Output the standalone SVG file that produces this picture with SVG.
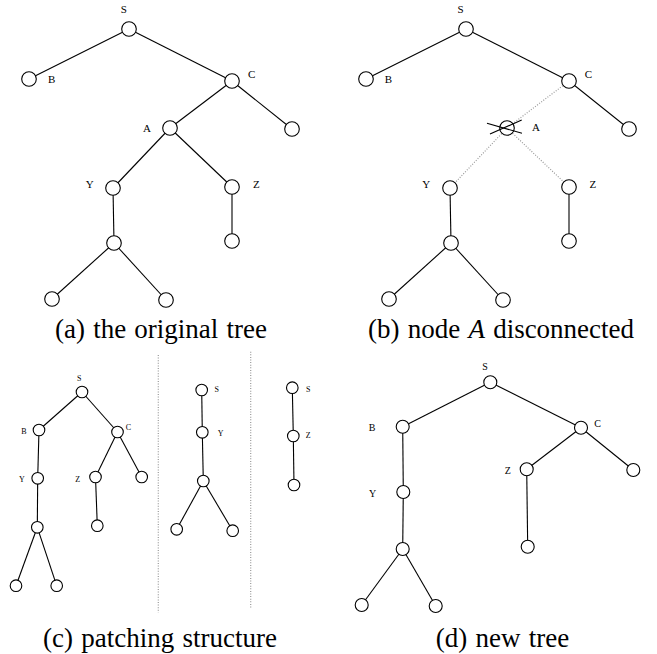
<svg xmlns="http://www.w3.org/2000/svg" width="657" height="654" viewBox="0 0 657 654">
<style>
.e{stroke:#000;stroke-width:1.1;fill:none}
.d{stroke:#999;stroke-width:1.2;stroke-dasharray:1 1.6;fill:none}
.n{fill:#fff;stroke:#000;stroke-width:1.1}
.l{font-size:11px;text-anchor:middle;fill:#000}
.ls{font-size:8px;text-anchor:middle;fill:#000}
.lm{font-size:10px;text-anchor:middle;fill:#000}
.cap{font-size:27px;text-anchor:middle;fill:#000;word-spacing:1.5px}
</style>
<rect width="657" height="654" fill="#fff"/>

<g id="connectors">
  <line class="e" x1="129" y1="29" x2="29" y2="79"/>
  <line class="e" x1="129" y1="29" x2="232" y2="81"/>
  <line class="e" x1="232" y1="81" x2="170" y2="128"/>
  <line class="e" x1="232" y1="81" x2="292" y2="129"/>
  <line class="e" x1="170" y1="128" x2="113" y2="188"/>
  <line class="e" x1="170" y1="128" x2="232" y2="187"/>
  <line class="e" x1="113" y1="188" x2="114" y2="243"/>
  <line class="e" x1="232" y1="187" x2="232" y2="241"/>
  <line class="e" x1="114" y1="243" x2="52" y2="299"/>
  <line class="e" x1="114" y1="243" x2="166" y2="300"/>
  <line class="e" x1="466" y1="29" x2="366" y2="79"/>
  <line class="e" x1="466" y1="29" x2="569" y2="81"/>
  <line class="d" x1="569" y1="81" x2="507" y2="128"/>
  <line class="e" x1="569" y1="81" x2="629" y2="129"/>
  <line class="d" x1="507" y1="128" x2="450" y2="188"/>
  <line class="d" x1="507" y1="128" x2="569" y2="187"/>
  <line class="e" x1="450" y1="188" x2="451" y2="243"/>
  <line class="e" x1="569" y1="187" x2="569" y2="241"/>
  <line class="e" x1="451" y1="243" x2="389" y2="299"/>
  <line class="e" x1="451" y1="243" x2="503" y2="300"/>
  <line class="e" x1="82" y1="392" x2="39" y2="430"/>
  <line class="e" x1="82" y1="392" x2="117.5" y2="432"/>
  <line class="e" x1="39" y1="430" x2="37.7" y2="478.3"/>
  <line class="e" x1="37.7" y1="478.3" x2="37.3" y2="527.3"/>
  <line class="e" x1="37.3" y1="527.3" x2="16" y2="585.7"/>
  <line class="e" x1="37.3" y1="527.3" x2="56.7" y2="585.7"/>
  <line class="e" x1="117.5" y1="432" x2="95.5" y2="477"/>
  <line class="e" x1="117.5" y1="432" x2="141.7" y2="477"/>
  <line class="e" x1="95.5" y1="477" x2="97.3" y2="525.7"/>
  <line class="e" x1="201.7" y1="390" x2="202.3" y2="432.3"/>
  <line class="e" x1="202.3" y1="432.3" x2="203.3" y2="481"/>
  <line class="e" x1="203.3" y1="481" x2="176.7" y2="529.3"/>
  <line class="e" x1="203.3" y1="481" x2="232.7" y2="530.7"/>
  <line class="e" x1="292.3" y1="387.7" x2="293.3" y2="436"/>
  <line class="e" x1="293.3" y1="436" x2="294" y2="485"/>
  <line class="e" x1="490.3" y1="382.3" x2="402.7" y2="426.7"/>
  <line class="e" x1="490.3" y1="382.3" x2="581" y2="427.7"/>
  <line class="e" x1="402.7" y1="426.7" x2="403.3" y2="492"/>
  <line class="e" x1="403.3" y1="492" x2="402.7" y2="549"/>
  <line class="e" x1="402.7" y1="549" x2="361.7" y2="605"/>
  <line class="e" x1="402.7" y1="549" x2="435.7" y2="606"/>
  <line class="e" x1="581" y1="427.7" x2="526.7" y2="469.3"/>
  <line class="e" x1="581" y1="427.7" x2="633.3" y2="470"/>
  <line class="e" x1="526.7" y1="469.3" x2="527.7" y2="546.7"/>
</g>

<g id="separators">
  <line class="d" x1="158.3" y1="355" x2="158.3" y2="612.7"/>
  <line class="d" x1="250.7" y1="351.7" x2="250.7" y2="608.3"/>
</g>

<g font-family="'Liberation Serif', 'Times New Roman', serif">
<g id="a-S"><circle class="n" cx="129" cy="29" r="7.3"/><text class="l" x="123.7" y="13.3">S</text></g>
<g id="a-B"><circle class="n" cx="29" cy="79" r="7.3"/><text class="l" x="51.7" y="83.4">B</text></g>
<g id="a-C"><circle class="n" cx="232" cy="81" r="7.3"/><text class="l" x="251.7" y="78.3">C</text></g>
<g id="a-CR"><circle class="n" cx="292" cy="129" r="7.3"/></g>
<g id="a-A"><circle class="n" cx="170" cy="128" r="7.3"/><text class="l" x="147" y="131.7">A</text></g>
<g id="a-Y"><circle class="n" cx="113" cy="188" r="7.3"/><text class="l" x="89.7" y="188.3">Y</text></g>
<g id="a-Z"><circle class="n" cx="232" cy="187" r="7.3"/><text class="l" x="256.3" y="188.3">Z</text></g>
<g id="a-ZC"><circle class="n" cx="232" cy="241" r="7.3"/></g>
<g id="a-YC"><circle class="n" cx="114" cy="243" r="7.3"/></g>
<g id="a-L1"><circle class="n" cx="52" cy="299" r="7.3"/></g>
<g id="a-L2"><circle class="n" cx="166" cy="300" r="7.3"/></g>

<g id="b-S"><circle class="n" cx="466" cy="29" r="7.3"/><text class="l" x="460.5" y="13.3">S</text></g>
<g id="b-B"><circle class="n" cx="366" cy="79" r="7.3"/><text class="l" x="388.5" y="83.4">B</text></g>
<g id="b-C"><circle class="n" cx="569" cy="81" r="7.3"/><text class="l" x="588.5" y="78.3">C</text></g>
<g id="b-CR"><circle class="n" cx="629" cy="129" r="7.3"/></g>
<g id="b-A"><circle class="n" cx="507" cy="128" r="7.3"/>
  <line class="e" x1="487" y1="123.3" x2="522" y2="133.3"/>
  <line class="e" x1="490" y1="134" x2="521.7" y2="120"/>
  <text class="l" x="536" y="130.6">A</text></g>
<g id="b-Y"><circle class="n" cx="450" cy="188" r="7.3"/><text class="l" x="426.3" y="188.3">Y</text></g>
<g id="b-Z"><circle class="n" cx="569" cy="187" r="7.3"/><text class="l" x="592.8" y="188.3">Z</text></g>
<g id="b-ZC"><circle class="n" cx="569" cy="241" r="7.3"/></g>
<g id="b-YC"><circle class="n" cx="451" cy="243" r="7.3"/></g>
<g id="b-L1"><circle class="n" cx="389" cy="299" r="7.3"/></g>
<g id="b-L2"><circle class="n" cx="503" cy="300" r="7.3"/></g>

<g id="c-S"><circle class="n" cx="82" cy="392" r="5.8"/><text class="ls" x="79.3" y="380.5">S</text></g>
<g id="c-B"><circle class="n" cx="39" cy="430" r="5.8"/><text class="ls" x="24" y="433.5">B</text></g>
<g id="c-C"><circle class="n" cx="117.5" cy="432" r="5.8"/><text class="ls" x="128.3" y="429.8">C</text></g>
<g id="c-Y"><circle class="n" cx="37.7" cy="478.3" r="5.8"/><text class="ls" x="21.8" y="481.5">Y</text></g>
<g id="c-Z"><circle class="n" cx="95.5" cy="477" r="5.8"/><text class="ls" x="77.6" y="481.5">Z</text></g>
<g id="c-CR"><circle class="n" cx="141.7" cy="477" r="5.8"/></g>
<g id="c-ZC"><circle class="n" cx="97.3" cy="525.7" r="5.8"/></g>
<g id="c-YC"><circle class="n" cx="37.3" cy="527.3" r="5.8"/></g>
<g id="c-L1"><circle class="n" cx="16" cy="585.7" r="5.8"/></g>
<g id="c-L2"><circle class="n" cx="56.7" cy="585.7" r="5.8"/></g>
<g id="c2-S"><circle class="n" cx="201.7" cy="390" r="5.8"/><text class="ls" x="216.7" y="392.3">S</text></g>
<g id="c2-Y"><circle class="n" cx="202.3" cy="432.3" r="5.8"/><text class="ls" x="220.7" y="436.3">Y</text></g>
<g id="c2-YC"><circle class="n" cx="203.3" cy="481" r="5.8"/></g>
<g id="c2-L1"><circle class="n" cx="176.7" cy="529.3" r="5.8"/></g>
<g id="c2-L2"><circle class="n" cx="232.7" cy="530.7" r="5.8"/></g>
<g id="c3-S"><circle class="n" cx="292.3" cy="387.7" r="5.8"/><text class="ls" x="308.3" y="392.3">S</text></g>
<g id="c3-Z"><circle class="n" cx="293.3" cy="436" r="5.8"/><text class="ls" x="308.3" y="438">Z</text></g>
<g id="c3-ZC"><circle class="n" cx="294" cy="485" r="5.8"/></g>

<g id="d-S"><circle class="n" cx="490.3" cy="382.3" r="6.5"/><text class="lm" x="485" y="370">S</text></g>
<g id="d-B"><circle class="n" cx="402.7" cy="426.7" r="6.5"/><text class="lm" x="372" y="431">B</text></g>
<g id="d-C"><circle class="n" cx="581" cy="427.7" r="6.5"/><text class="lm" x="597.7" y="426.6">C</text></g>
<g id="d-Z"><circle class="n" cx="526.7" cy="469.3" r="6.5"/><text class="lm" x="507.7" y="474.3">Z</text></g>
<g id="d-CR"><circle class="n" cx="633.3" cy="470" r="6.5"/></g>
<g id="d-ZC"><circle class="n" cx="527.7" cy="546.7" r="6.5"/></g>
<g id="d-Y"><circle class="n" cx="403.3" cy="492" r="6.5"/><text class="lm" x="372.7" y="497.3">Y</text></g>
<g id="d-YC"><circle class="n" cx="402.7" cy="549" r="6.5"/></g>
<g id="d-L1"><circle class="n" cx="361.7" cy="605" r="6.5"/></g>
<g id="d-L2"><circle class="n" cx="435.7" cy="606" r="6.5"/></g>

<g id="captions">
  <text class="cap" x="161" y="338">(a) the original tree</text>
  <text class="cap" x="501" y="338">(b) node <tspan font-style="italic">A</tspan> disconnected</text>
  <text class="cap" x="160" y="646.5">(c) patching structure</text>
  <text class="cap" x="502.5" y="646.5">(d) new tree</text>
</g>
</g>
</svg>
